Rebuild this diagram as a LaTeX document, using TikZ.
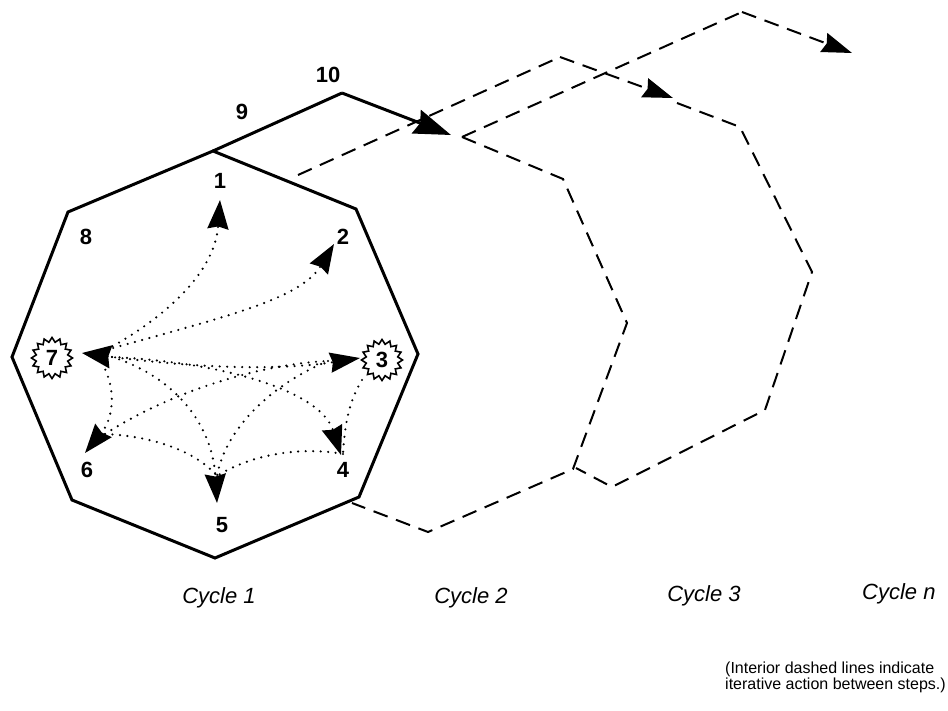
\documentclass[tikz,border=0pt]{standalone}
\usepackage{fontspec}
\setmainfont{Liberation Sans}
\usetikzlibrary{arrows.meta,shapes.geometric}
\begin{document}
\begin{tikzpicture}[x=1pt,y=-1pt,
  solidline/.style={line width=3pt, line join=miter},
  dashline/.style={line width=2pt, dash pattern=on 15pt off 9pt},
  dotline/.style={line width=2.4pt, line cap=round, dash pattern=on 0pt off 7.5pt},
  dtip/.style={-{Stealth[length=29pt,width=21pt,inset=2.5pt]}},
  dtipboth/.style={{Stealth[length=29pt,width=23pt,inset=2.5pt]}-{Stealth[length=30pt,width=20pt,inset=2.5pt]}},
  bigtip/.style={-{Stealth[length=37pt,width=25pt,inset=4pt]}},
  dashtip/.style={-{Stealth[length=30pt,width=20pt,inset=3pt]}},
  num/.style={font=\fontsize{22}{26}\selectfont\bfseries, inner sep=0pt},
  burst/.style={draw, line width=1.6pt, star, star points=16, star point ratio=1.28,
    minimum size=41pt, inner sep=0pt, font=\fontsize{22}{26}\selectfont\bfseries},
  cyc/.style={font=\fontsize{22}{26}\selectfont\itshape, inner sep=0pt},
  note/.style={font=\fontsize{16}{16}\selectfont, align=left, inner sep=0pt}
]
\useasboundingbox (0,0) rectangle (948,711);

% ---- Cycle 1 (solid octagon)
\coordinate (T1) at (213,151);
\coordinate (UR1) at (356,209);
\coordinate (R1) at (418,354);
\coordinate (LR1) at (359,497);
\coordinate (B1) at (215,558);
\coordinate (LL1) at (72,500);
\coordinate (L1) at (12,357);
\coordinate (UL1) at (68,212);
\coordinate (V10a) at (342,93);
\coordinate (Tip2) at (451,135);
\draw[solidline] (T1) -- (UR1) -- (R1) -- (LR1) -- (B1) -- (LL1) -- (L1) -- (UL1) -- cycle;
\draw[solidline] (T1) -- (V10a);
\draw[solidline, bigtip] (V10a) -- (Tip2);

% ---- Cycle 2 (dashed)
\coordinate (A0) at (298,175);
\coordinate (V10b) at (560,57);
\coordinate (Tip3) at (673,98);
\coordinate (K) at (462,137);
\coordinate (UR2) at (563,179);
\coordinate (R2) at (627,323);
\coordinate (LR2) at (573,469);
\coordinate (B2) at (428,532);
\coordinate (E2) at (352,503);
\draw[dashline] (A0) -- (V10b);
\draw[dashline, dashtip] (V10b) -- (Tip3);
\draw[dashline] (K) -- (UR2) -- (R2) -- (LR2) -- (B2) -- (E2);

% ---- Cycle 3 (dashed)
\coordinate (V10c) at (742,12);
\coordinate (Tipn) at (852,53);
\coordinate (C0) at (677,103);
\coordinate (UR3) at (740,127);
\coordinate (R3) at (812,272);
\coordinate (LR3) at (765,410);
\coordinate (B3) at (612,487);
\coordinate (E3) at (576,468);
\draw[dashline] (K) -- (V10c);
\draw[dashline, dashtip] (V10c) -- (Tipn);
\draw[dashline] (C0) -- (UR3) -- (R3) -- (LR3) -- (B3) -- (E3);

% ---- step labels
\node[num] (n1) at (220,181) {1};
\node[num] (n2) at (343,237) {2};
\node[num] (n4) at (343,470) {4};
\node[num] (n5) at (222,525) {5};
\node[num] (n6) at (87,470) {6};
\node[num] (n8) at (86,237) {8};
\node[num] (n9) at (242,112) {9};
\node[num] (n10) at (328,75) {10};
\node[burst] (s7) at (52,358) {7};
\node[burst] (s3) at (382,360) {3};

% ---- dotted interior connectors
\coordinate (f7a) at (106,350);
\coordinate (f7b) at (112,357);
\coordinate (f7c) at (102,363);
\coordinate (h7) at (82,353);
\coordinate (h1) at (220,200);
\coordinate (h2) at (334,244);
\coordinate (h3) at (360,358);
\coordinate (h4) at (341,455);
\coordinate (h5) at (217,503);
\coordinate (h6) at (85,453);
\coordinate (b3) at (328,361);
\coordinate (b5) at (217,476);
\coordinate (b6) at (105,434);
\coordinate (o3) at (362,380);
\coordinate (o4) at (343,454);

\draw[dotline, dtip] (f7a) .. controls (170,315) and (215,270) .. (h1);
\draw[dotline, dtip] (f7a) .. controls (220,318) and (300,300) .. (h2);
\draw[dotline, dtipboth] (h7) .. controls (180,366) and (270,372) .. (h3);
\draw[dotline, dtip] (f7b) .. controls (220,362) and (320,390) .. (h4);
\draw[dotline, dtip] (f7b) .. controls (170,375) and (212,420) .. (h5);
\draw[dotline, dtip] (f7c) .. controls (118,392) and (112,420) .. (h6);
\draw[dotline] (o3) .. controls (350,400) and (345,420) .. (o4);
\draw[dotline] (b3) .. controls (270,385) and (225,430) .. (b5);
\draw[dotline] (b6) .. controls (170,392) and (260,364) .. (b3);
\draw[dotline] (b6) .. controls (150,436) and (195,450) .. (b5);
\draw[dotline] (o4) .. controls (300,446) and (250,455) .. (b5);

% ---- cycle labels
\node[cyc] (c1) at (219,598) {Cycle 1};
\node[cyc] (c2) at (471,598) {Cycle 2};
\node[cyc] (c3) at (704,596) {Cycle 3};
\node[cyc, anchor=west] (cn) at (862,594) {Cycle n};

\node[note, anchor=base west] (nt) at (725,689) {(Interior dashed lines indicate\\iterative action between steps.)};
\end{tikzpicture}
\end{document}
